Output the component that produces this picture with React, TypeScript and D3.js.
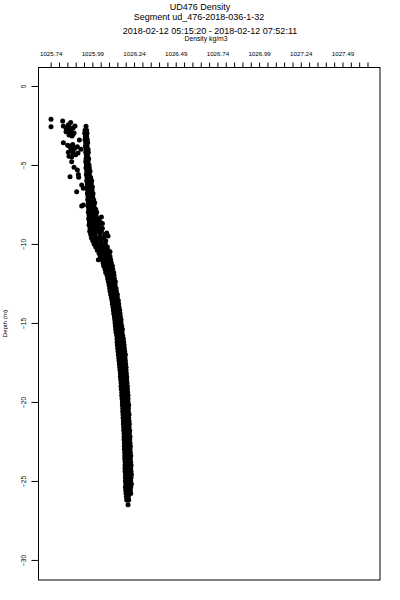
import React, { useRef, useEffect } from "react";
import * as d3 from "d3";

// titles
const titleLines = [
  "UD476 Density",
  "Segment ud_476-2018-036-1-32",
  "2018-02-12 05:15:20 - 2018-02-12 07:52:11",
];
const xTitle = "Density kg/m3";
const yTitle = "Depth (m)";

// top axis labels (every 5th minor tick) and depth ticks
const xTickLabels = ["1025.74", "1025.99", "1026.24", "1026.49", "1026.74", "1026.99", "1027.24", "1027.49"];
const yTickValues = [0, -5, -10, -15, -20, -25, -30];

// main band of the profile: one depth per row, densities read across the row
const bandDepth = [
  2.55, 2.8, 3.0, 3.2, 3.4, 3.6, 3.8, 4.0, 4.2, 4.4, 4.6, 4.8, 5.0, 5.2, 5.4, 5.6, 5.8,
  6.0, 6.2, 6.4, 6.6, 6.8, 7.0, 7.2, 7.4, 7.6, 7.8, 8.0, 8.2, 8.4, 8.6, 8.8, 9.0, 9.2,
  9.4, 9.6, 9.8, 10.0, 10.2, 10.4, 10.6, 10.8, 11.0, 11.2, 11.4, 11.6, 11.8, 12.0, 12.2,
  12.4, 12.6, 12.8, 13.0, 13.2, 13.4, 13.6, 13.8, 14.0, 14.2, 14.4, 14.6, 14.8, 15.0,
  15.2, 15.4, 15.6, 15.8, 16.0, 16.2, 16.4, 16.6, 16.8, 17.0, 17.2, 17.4, 17.6, 17.8,
  18.0, 18.2, 18.4, 18.6, 18.8, 19.0, 19.2, 19.4, 19.6, 19.8, 20.0, 20.2, 20.4, 20.6,
  20.8, 21.0, 21.2, 21.4, 21.6, 21.8, 22.0, 22.2, 22.4, 22.6, 22.8, 23.0, 23.2, 23.4,
  23.6, 23.8, 24.0, 24.2, 24.4, 24.6, 24.8, 25.0, 25.2, 25.4, 25.6, 25.8, 26.0, 26.2, 26.5,
];
const bandDensity = [
  [1025.952], [1025.946, 1025.956], [1025.944, 1025.958], [1025.948, 1025.956],
  [1025.946, 1025.960], [1025.950, 1025.962], [1025.948, 1025.958], [1025.952, 1025.964],
  [1025.950, 1025.966], [1025.954, 1025.962], [1025.952, 1025.968], [1025.950, 1025.964],
  [1025.954, 1025.970], [1025.952, 1025.966, 1025.972], [1025.956, 1025.964, 1025.976],
  [1025.954, 1025.968, 1025.972], [1025.958, 1025.970, 1025.980], [1025.956, 1025.972, 1025.986],
  [1025.960, 1025.974, 1025.984], [1025.958, 1025.970, 1025.990], [1025.962, 1025.978, 1025.988],
  [1025.960, 1025.976, 1025.994], [1025.964, 1025.980, 1025.992], [1025.962, 1025.982, 1025.998],
  [1025.966, 1025.978, 1026.004], [1025.964, 1025.984, 1026.000], [1025.968, 1025.988, 1026.010],
  [1025.966, 1025.990, 1026.016], [1025.970, 1025.994, 1026.012],
  [1025.968, 1025.986, 1026.006, 1026.026], [1025.972, 1025.994, 1026.014, 1026.036],
  [1025.970, 1025.990, 1026.010, 1026.030], [1025.976, 1025.998, 1026.024, 1026.050],
  [1025.974, 1026.000, 1026.022, 1026.044], [1025.980, 1026.004, 1026.034, 1026.064],
  [1025.984, 1026.010, 1026.034, 1026.058], [1025.992, 1026.016, 1026.044, 1026.070],
  [1026.000, 1026.022, 1026.046, 1026.068], [1026.010, 1026.034, 1026.058, 1026.080],
  [1026.020, 1026.042, 1026.064, 1026.084], [1026.030, 1026.050, 1026.070, 1026.090],
  [1026.038, 1026.058, 1026.078, 1026.096], [1026.048, 1026.066, 1026.084, 1026.100],
  [1026.054, 1026.072, 1026.088, 1026.104], [1026.058, 1026.076, 1026.094, 1026.110],
  [1026.066, 1026.082, 1026.098, 1026.112], [1026.070, 1026.086, 1026.102, 1026.118],
  [1026.078, 1026.092, 1026.106, 1026.120], [1026.082, 1026.096, 1026.110, 1026.122],
  [1026.086, 1026.106, 1026.128], [1026.090, 1026.110, 1026.126],
  [1026.094, 1026.112, 1026.132], [1026.096, 1026.118, 1026.134], [1026.100, 1026.118, 1026.140],
  [1026.104, 1026.122, 1026.140], [1026.108, 1026.126, 1026.146], [1026.110, 1026.130, 1026.148],
  [1026.114, 1026.132, 1026.150], [1026.116, 1026.134, 1026.154], [1026.118, 1026.138, 1026.156],
  [1026.122, 1026.140, 1026.158], [1026.124, 1026.142, 1026.162], [1026.126, 1026.144, 1026.162],
  [1026.128, 1026.146, 1026.166], [1026.130, 1026.150, 1026.170], [1026.132, 1026.152, 1026.168],
  [1026.136, 1026.154, 1026.172], [1026.138, 1026.156, 1026.176], [1026.138, 1026.158, 1026.178],
  [1026.140, 1026.160, 1026.180], [1026.142, 1026.162, 1026.182], [1026.144, 1026.164, 1026.184],
  [1026.146, 1026.166, 1026.188], [1026.148, 1026.168, 1026.186], [1026.150, 1026.170, 1026.188],
  [1026.152, 1026.172, 1026.190], [1026.154, 1026.174, 1026.192], [1026.156, 1026.174, 1026.192],
  [1026.158, 1026.176, 1026.194], [1026.158, 1026.178, 1026.196], [1026.160, 1026.180, 1026.196],
  [1026.162, 1026.180, 1026.198], [1026.162, 1026.182, 1026.200], [1026.164, 1026.184, 1026.200],
  [1026.166, 1026.184, 1026.202], [1026.166, 1026.186, 1026.204], [1026.168, 1026.186, 1026.204],
  [1026.170, 1026.188, 1026.204], [1026.170, 1026.188, 1026.208], [1026.172, 1026.190, 1026.206],
  [1026.172, 1026.190, 1026.206], [1026.174, 1026.192, 1026.210], [1026.174, 1026.192, 1026.208],
  [1026.176, 1026.194, 1026.210], [1026.176, 1026.194, 1026.212], [1026.178, 1026.196, 1026.210],
  [1026.178, 1026.196, 1026.214], [1026.180, 1026.198, 1026.212], [1026.180, 1026.198, 1026.216],
  [1026.180, 1026.200, 1026.214], [1026.182, 1026.200, 1026.216], [1026.182, 1026.200, 1026.218],
  [1026.182, 1026.202, 1026.216], [1026.184, 1026.202, 1026.218], [1026.184, 1026.202, 1026.220],
  [1026.184, 1026.204, 1026.218], [1026.186, 1026.204, 1026.220], [1026.186, 1026.204, 1026.222],
  [1026.186, 1026.206, 1026.220], [1026.186, 1026.204, 1026.222], [1026.188, 1026.206, 1026.224],
  [1026.188, 1026.206, 1026.222], [1026.188, 1026.206, 1026.220], [1026.190, 1026.206, 1026.224],
  [1026.188, 1026.208, 1026.220], [1026.190, 1026.206, 1026.218], [1026.192, 1026.208, 1026.220],
  [1026.194, 1026.206], [1026.196, 1026.208], [1026.204],
];

// scattered points near the surface and outliers beside the band
const scatterDepth = [
  2.11, 2.58, 2.22, 2.53, 2.32, 2.66, 2.78, 2.85, 2.66, 2.97, 3.10, 3.16, 2.90, 2.53,
  2.45, 2.75, 3.0, 2.6, 3.05,
  3.59, 3.42, 3.75, 3.9, 4.05, 4.2, 4.35, 4.5, 3.85, 4.25, 4.0,
  3.7, 3.95, 4.1, 4.3, 4.45, 3.8,
  4.79, 5.15, 5.74, 5.32, 5.6, 5.78, 6.27, 6.47, 6.69, 7.53, 7.6, 8.3, 8.7, 9.3, 9.5, 10.5, 11.0,
];
const scatterDensity = [
  1025.742, 1025.742, 1025.812, 1025.816, 1025.860, 1025.832, 1025.844, 1025.862, 1025.874,
  1025.880, 1025.850, 1025.868, 1025.832, 1025.886,
  1025.846, 1025.856, 1025.858, 1025.852, 1025.874,
  1025.816, 1025.912, 1025.842, 1025.858, 1025.876, 1025.846, 1025.890, 1025.866, 1025.900,
  1025.904, 1025.922,
  1025.872, 1025.884, 1025.862, 1025.876, 1025.850, 1025.850,
  1025.866, 1025.880, 1025.856, 1025.900, 1025.906, 1025.908, 1025.926, 1025.936, 1025.896,
  1025.936, 1025.926, 1026.044, 1026.050, 1026.076, 1026.084, 1026.096, 1026.026,
];

const App = () => {
  const ref = useRef<SVGSVGElement>(null);

  useEffect(() => {
    const svg = d3.select(ref.current);
    svg.selectAll("*").remove();

    const width = 400;
    const height = 600;
    const plot = { left: 38.5, right: 380, top: 67.5, bottom: 580 };
    const font = "'Liberation Sans', Arial, Helvetica, sans-serif";

    svg.attr("width", width).attr("height", height);
    svg.append("rect").attr("width", width).attr("height", height).attr("fill", "white");

    const x = d3.scaleLinear().domain([1025.667, 1027.715]).range([plot.left, plot.right]);
    const y = d3.scaleLinear().domain([1.2, -31.27]).range([67, plot.bottom]);

    // titles
    const titleX = [200, 199, 210];
    const titleY = [9.5, 20, 33.5];
    titleLines.forEach((t, i) => {
      svg
        .append("text")
        .attr("x", titleX[i])
        .attr("y", titleY[i])
        .attr("text-anchor", "middle")
        .attr("font-family", font)
        .attr("font-size", "9px")
        .attr("fill", "black")
        .text(t);
    });
    svg
      .append("text")
      .attr("x", 206)
      .attr("y", 40.5)
      .attr("text-anchor", "middle")
      .attr("font-family", font)
      .attr("font-size", "6.8px")
      .text(xTitle);

    // points
    const pts: [number, number][] = [];
    bandDepth.forEach((d, i) => bandDensity[i].forEach((rho) => pts.push([rho, -d])));
    scatterDepth.forEach((d, i) => pts.push([scatterDensity[i], -d]));

    svg
      .append("g")
      .selectAll("circle")
      .data(pts)
      .join("circle")
      .attr("cx", (d) => x(d[0]))
      .attr("cy", (d) => y(d[1]))
      .attr("r", 2.5)
      .attr("fill", "black");

    // frame
    svg
      .append("rect")
      .attr("x", plot.left)
      .attr("y", plot.top)
      .attr("width", plot.right - plot.left)
      .attr("height", plot.bottom - plot.top)
      .attr("fill", "none")
      .attr("stroke", "black")
      .attr("stroke-width", 1);

    // top axis: minor ticks every 0.05, label every 5th
    const xTicks = d3.range(0, 39).map((i) => 1025.74 + i * 0.05);
    const topAxis = svg
      .append("g")
      .attr("transform", `translate(0,${plot.top})`)
      .call(
        d3
          .axisTop(x)
          .tickValues(xTicks)
          .tickSize(5)
          .tickSizeOuter(0)
          .tickPadding(7)
          .tickFormat((_, i) => (i % 5 === 0 ? xTickLabels[i / 5] ?? "" : ""))
      );
    topAxis.select(".domain").remove();
    topAxis.selectAll("text").attr("font-family", font).attr("font-size", "6.2px").attr("fill", "black");

    // left axis with rotated labels
    const leftAxis = svg
      .append("g")
      .attr("transform", `translate(${plot.left},0)`)
      .call(d3.axisLeft(y).tickValues(yTickValues).tickSize(7).tickSizeOuter(0));
    leftAxis.select(".domain").remove();
    leftAxis
      .selectAll("text")
      .attr("x", null)
      .attr("dy", null)
      .attr("text-anchor", "middle")
      .attr("transform", "translate(-12.5,0) rotate(-90)")
      .attr("font-family", font)
      .attr("font-size", "6.5px")
      .attr("fill", "black");

    svg
      .append("text")
      .attr("transform", `translate(6.5,${(plot.top + plot.bottom) / 2}) rotate(-90)`)
      .attr("text-anchor", "middle")
      .attr("font-family", font)
      .attr("font-size", "6.2px")
      .text(yTitle);
  }, []);

  return <svg ref={ref} style={{ position: "absolute", left: 0, top: 0 }}></svg>;
};

export default App;
